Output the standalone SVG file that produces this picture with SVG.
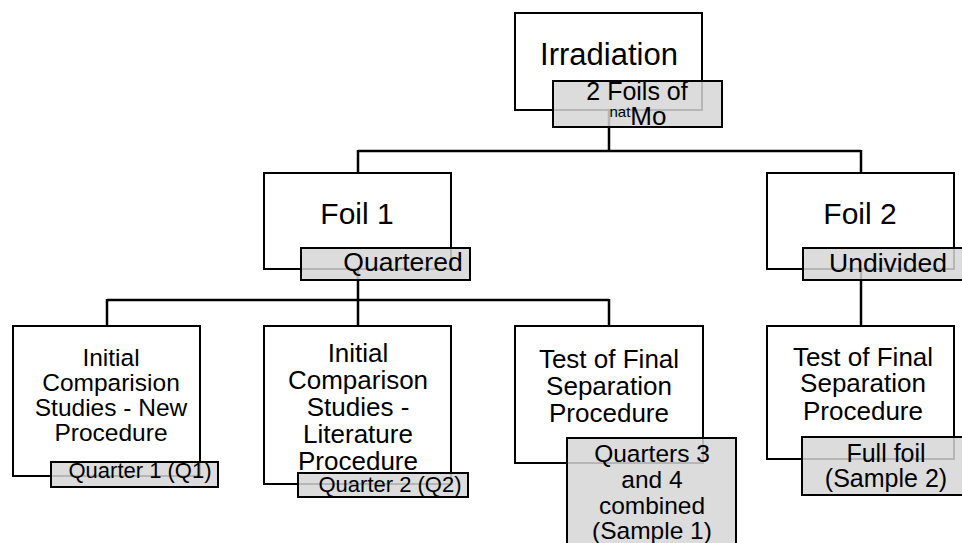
<svg xmlns="http://www.w3.org/2000/svg" width="962" height="543" viewBox="0 0 962 543">
<style>
.box{fill:#ffffff;stroke:#000;stroke-width:2}
.tag{fill:#d6d6d6;fill-opacity:0.85;stroke:#000;stroke-width:2}
.conn{fill:none;stroke:#000;stroke-width:2.5}
text{font-family:"Liberation Sans",Arial,sans-serif;fill:#000;text-anchor:middle}
.big{font-size:30px}
.mid{font-size:26px}
.sm{font-size:24px}
</style>
<rect x="0" y="0" width="962" height="543" fill="#ffffff"/>
<g id="connectors">
<path class="conn" d="M609 110 V151 M358 151 H861 M358 150 V173 M861 150 V173"/>
<path class="conn" d="M358 269 V300 M107 300 H609 M107 299 V326 M358 299 V326 M609 299 V326"/>
<path class="conn" d="M861 269 V326"/>
</g>
<g id="irradiation">
<rect class="box" x="515" y="13" width="187" height="97"/>
<text class="big" x="609" y="65" style="font-size:31px">Irradiation</text>
<rect class="tag" x="553" y="81" width="169" height="46"/>
<text class="mid" x="637" y="100" style="font-size:25px">2 Foils of</text>
<text x="638" y="125"><tspan style="font-size:15px" dy="-8">nat</tspan><tspan style="font-size:26px" dy="8">Mo</tspan></text>
</g>
<g id="foil1">
<rect class="box" x="264" y="173" width="187" height="96"/>
<text class="big" x="357" y="224">Foil 1</text>
<rect class="tag" x="301" y="248" width="169" height="32"/>
<text class="mid" x="403" y="271" style="font-size:26.5px">Quartered</text>
</g>
<g id="foil2">
<rect class="box" x="767" y="173" width="187" height="96"/>
<text class="big" x="860" y="224">Foil 2</text>
<rect class="tag" x="803" y="248" width="169" height="32"/>
<text class="mid" x="888" y="272" style="font-size:26.5px">Undivided</text>
</g>
<g id="leaf1">
<rect class="box" x="13" y="326" width="187" height="150"/>
<text class="sm" x="111" y="366" style="font-size:24.5px">Initial</text>
<text class="sm" x="111" y="391" style="font-size:24.5px">Comparision</text>
<text class="sm" x="111" y="416" style="font-size:24.5px">Studies - New</text>
<text class="sm" x="111" y="441" style="font-size:24.5px">Procedure</text>
<rect class="tag" x="51" y="462" width="167" height="25"/>
<text x="140" y="478" style="font-size:22px">Quarter 1 (Q1)</text>
</g>
<g id="leaf2">
<rect class="box" x="264" y="326" width="187" height="158"/>
<text class="mid" x="358" y="362">Initial</text>
<text class="mid" x="358" y="389">Comparison</text>
<text class="mid" x="358" y="416">Studies -</text>
<text class="mid" x="358" y="443">Literature</text>
<text class="mid" x="358" y="470">Procedure</text>
<rect class="tag" x="298" y="473" width="170" height="24"/>
<text x="390" y="492" style="font-size:22px">Quarter 2 (Q2)</text>
</g>
<g id="leaf3">
<rect class="box" x="515" y="326" width="188" height="137"/>
<text class="mid" x="609" y="368">Test of Final</text>
<text class="mid" x="609" y="395">Separation</text>
<text class="mid" x="609" y="422">Procedure</text>
<rect class="tag" x="567" y="438" width="169" height="115"/>
<text class="sm" x="652" y="462" style="font-size:24.5px">Quarters 3</text>
<text class="sm" x="652" y="488" style="font-size:24.5px">and 4</text>
<text class="sm" x="652" y="514" style="font-size:24.5px">combined</text>
<text class="sm" x="652" y="539" style="font-size:24.5px">(Sample 1)</text>
</g>
<g id="leaf4">
<rect class="box" x="767" y="326" width="187" height="133"/>
<text class="mid" x="863" y="366">Test of Final</text>
<text class="mid" x="863" y="392">Separation</text>
<text class="mid" x="863" y="420">Procedure</text>
<rect class="tag" x="802" y="437" width="169" height="58"/>
<text class="mid" x="886" y="462" style="font-size:25px">Full foil</text>
<text class="mid" x="886" y="487" style="font-size:25px">(Sample 2)</text>
</g>
</svg>
